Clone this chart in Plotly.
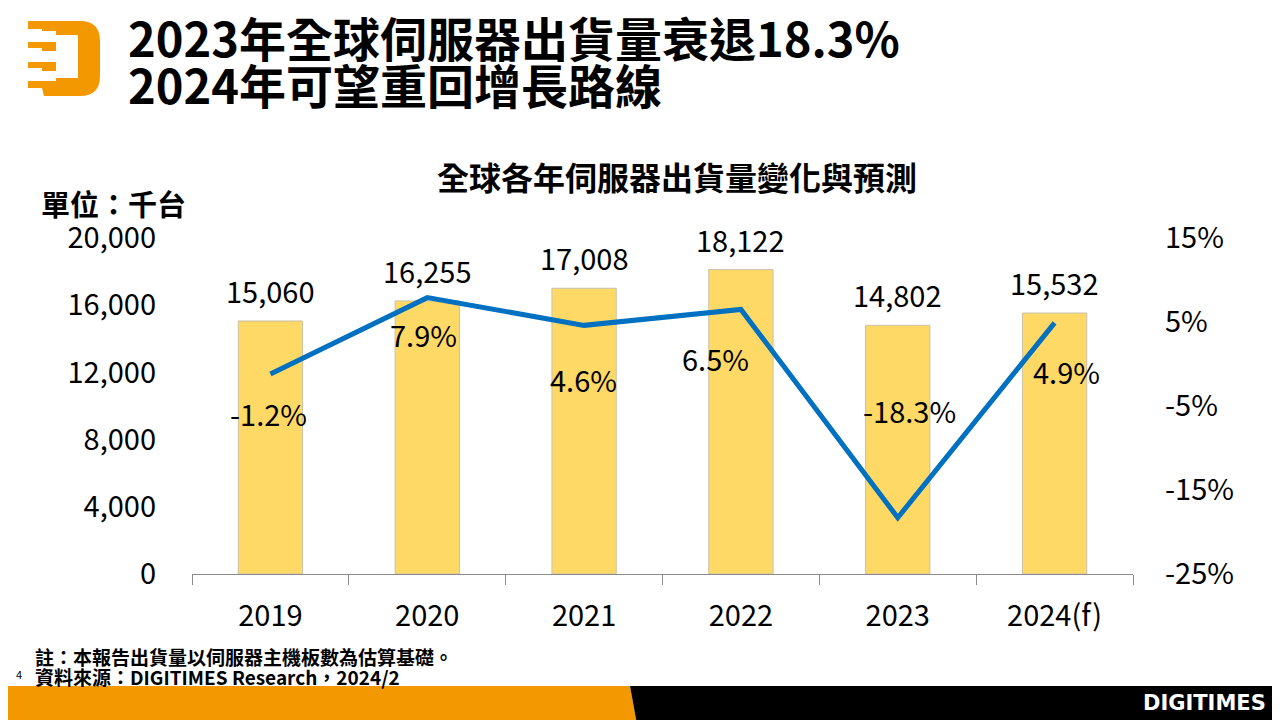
import re
import plotly.graph_objects as go

# data
years = ["2019", "2020", "2021", "2022", "2023", "2024(f)"]
shipments = [15060, 16255, 17008, 18122, 14802, 15532]  # 千台
growth = [-1.2, 7.9, 4.6, 6.5, -18.3, 4.9]  # %
left_ticks = [0, 4000, 8000, 12000, 16000, 20000]
right_ticks = [-25, -15, -5, 5, 15]
right_tick_text = ["-25%", "-15%", "-5%", "5%", "15%"]

# label nudges for the growth labels (pixels: dx right, dy down)
growth_label_nudge = [(-2, 39), (-4, 36), (-1, 54), (-25, 49), (12, -108), (12, 48)]

FONT = "Noto Sans CJK TC"
W, H = 1280, 720
OFF = 8  # the page body has an 8px margin, so draw everything shifted back by it
L, T = 192 - OFF, 238 - OFF
PW, PH = 941, 336
R, B = W - L - PW, H - T - PH


def px(x, y):
    """screen pixel -> paper coords"""
    fx, fy = x - OFF, y - OFF
    return (fx - L) / PW, (H - B - fy) / PH


def px_path(s):
    toks = re.findall(r"[A-Z]|-?\d+\.?\d*", s)
    out, nums = [], []
    for t in toks:
        if t.isalpha():
            out.append(t)
        else:
            nums.append(float(t))
            if len(nums) == 2:
                xp, yp = px(*nums)
                out.append(f"{xp:.5f},{yp:.5f}")
                nums = []
    return " ".join(out)


fig = go.Figure()

fig.add_trace(go.Bar(
    x=years, y=shipments,
    width=0.41,
    marker=dict(color="#FFD966", line=dict(color="#C9C0A8", width=1)),
    hoverinfo="x+y",
))

fig.add_trace(go.Scatter(
    x=years, y=growth, yaxis="y2",
    mode="lines",
    line=dict(color="#0070C0", width=5),
))

annotations = []
# bar value labels
for i, v in enumerate(shipments):
    annotations.append(dict(
        x=i, y=v, xref="x", yref="y", text=f"{v:,}", showarrow=False,
        yanchor="middle", yshift=31, font=dict(family=FONT, size=29, color="black"),
    ))
# growth labels
for i, (g, (dx, dy)) in enumerate(zip(growth, growth_label_nudge)):
    annotations.append(dict(
        x=i, y=g, xref="x", yref="y2", text=f"{g}%", showarrow=False,
        xshift=dx, yshift=-dy, font=dict(family=FONT, size=29, color="black"),
    ))


def text_at(x, y, text, size, xanchor="left", weight="normal", color="black", family=FONT):
    xp, yp = px(x, y)
    annotations.append(dict(
        x=xp, y=yp, xref="paper", yref="paper", text=text,
        showarrow=False, xanchor=xanchor, yanchor="middle",
        font=dict(family=family, size=size, color=color, weight=weight),
    ))


text_at(126, 37, "2023年全球伺服器出貨量衰退18.3%", 47, weight="bold")
text_at(126, 83, "2024年可望重回增長路線", 47, weight="bold")
text_at(677, 176, "全球各年伺服器出貨量變化與預測", 32, xanchor="center", weight="bold")
text_at(39, 203, "單位：千台", 29, weight="bold")
text_at(33, 656, "註：本報告出貨量以伺服器主機板數為估算基礎。", 19, weight="bold")
text_at(33, 676, "資料來源：DIGITIMES Research，2024/2", 19, weight="bold")
text_at(14, 674, "4", 11)
text_at(1268, 703, "DIGITIMES", 21, xanchor="right", weight="bold", color="white", family="DejaVu Sans")

orange = "#F39800"
shapes = [
    # footer band
    dict(type="path", xref="paper", yref="paper", line_width=0, fillcolor=orange,
         path=px_path("M 0,686 L 630,686 L 638,730 L 0,730 Z")),
    dict(type="path", xref="paper", yref="paper", line_width=0, fillcolor="black",
         path=px_path("M 630,686 L 1290,686 L 1290,730 L 638,730 Z")),
    # logo
    dict(type="path", xref="paper", yref="paper", line_width=0, fillcolor=orange,
         path=px_path("M 28,21 L 80,21 Q 100,21 100,41 L 100,76 Q 100,96 80,96 L 44,96 "
                      "L 42,88 L 28,88 L 28,81 L 56,81 L 56,78 L 78,78 L 78,35 L 56,35 "
                      "L 56,31 L 42,31 L 42,29 L 28,29 Z")),
    dict(type="path", xref="paper", yref="paper", line_width=0, fillcolor=orange,
         path=px_path("M 28,42 L 56,42 L 56,51 L 42,51 L 42,48 L 28,48 Z")),
    dict(type="path", xref="paper", yref="paper", line_width=0, fillcolor=orange,
         path=px_path("M 28,62 L 56,62 L 56,71 L 42,71 L 42,68 L 28,68 Z")),
]

fig.update_layout(
    width=W, height=H,
    margin=dict(l=L, r=R, t=T, b=B),
    paper_bgcolor="white", plot_bgcolor="white",
    showlegend=False,
    font=dict(family=FONT, size=29, color="black"),
    xaxis=dict(
        type="category", range=[-0.5, 5.5], showgrid=False, showline=True,
        linecolor="#8C8C8C", linewidth=1,
        ticks="outside", tickson="boundaries", ticklen=10, tickcolor="#8C8C8C",
        ticklabelstandoff=16,
        tickfont=dict(family=FONT, size=29, color="black"),
    ),
    yaxis=dict(
        range=[0, 20000], tickvals=left_ticks, tickformat=",", showgrid=False,
        zeroline=False, showline=False, ticklabelstandoff=35,
        tickfont=dict(family=FONT, size=29, color="black"),
    ),
    yaxis2=dict(
        overlaying="y", side="right", range=[-25, 15], tickvals=right_ticks,
        ticktext=right_tick_text, showgrid=False, zeroline=False, showline=False,
        ticklabelstandoff=31, tickfont=dict(family=FONT, size=29, color="black"),
    ),
    annotations=annotations,
    shapes=shapes,
)

fig.write_html("out.html")
